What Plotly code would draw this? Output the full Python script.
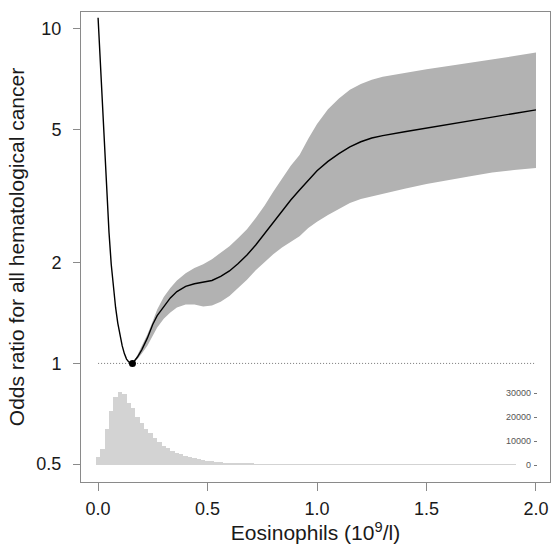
import plotly.graph_objects as go

# ---- data ----
or_x = [0.00, 0.01, 0.02, 0.03, 0.04, 0.05, 0.06, 0.07, 0.08, 0.09, 0.10, 0.11, 0.12, 0.13, 0.14,
        0.15, 0.157, 0.18, 0.20, 0.225, 0.25, 0.27, 0.30, 0.33, 0.36, 0.40, 0.44, 0.48, 0.52, 0.56,
        0.60, 0.64, 0.68, 0.72, 0.76, 0.80, 0.84, 0.88, 0.92, 0.96, 1.00, 1.05, 1.10, 1.15,
        1.20, 1.25, 1.30, 1.40, 1.50, 1.60, 1.70, 1.80, 1.90, 2.00]
or_y = [10.8, 8.0, 5.9, 4.35, 3.25, 2.46, 1.98, 1.68, 1.47, 1.32, 1.21, 1.13, 1.07, 1.03, 1.01,
        1.002, 1.0, 1.045, 1.10, 1.19, 1.31, 1.39, 1.48, 1.57, 1.64, 1.70, 1.73, 1.75, 1.77, 1.82,
        1.89, 1.99, 2.11, 2.26, 2.44, 2.65, 2.86, 3.08, 3.30, 3.53, 3.77, 4.02, 4.24, 4.44,
        4.60, 4.72, 4.80, 4.93, 5.05, 5.18, 5.30, 5.45, 5.59, 5.73]

ci_x = [0.157, 0.18, 0.20, 0.225, 0.25, 0.27, 0.30, 0.33, 0.36, 0.40, 0.44, 0.48, 0.52, 0.56,
        0.60, 0.64, 0.68, 0.72, 0.76, 0.80, 0.84, 0.88, 0.92, 0.96, 1.00, 1.05, 1.10, 1.15,
        1.20, 1.25, 1.30, 1.40, 1.50, 1.60, 1.70, 1.80, 1.90, 2.00]
ci_upper = [1.0, 1.06, 1.13, 1.22, 1.34, 1.45, 1.58, 1.68, 1.77, 1.86, 1.93, 1.98, 2.05, 2.14,
            2.24, 2.37, 2.52, 2.72, 2.96, 3.26, 3.58, 3.90, 4.20, 4.70, 5.20, 5.75, 6.20, 6.58,
            6.85, 7.05, 7.20, 7.40, 7.58, 7.75, 7.92, 8.10, 8.30, 8.50]
ci_lower = [1.0, 1.03, 1.07, 1.13, 1.21, 1.28, 1.36, 1.42, 1.47, 1.50, 1.50, 1.48, 1.49, 1.53,
            1.59, 1.68, 1.78, 1.90, 2.01, 2.12, 2.22, 2.31, 2.40, 2.54, 2.65, 2.78, 2.90, 3.02,
            3.10, 3.15, 3.22, 3.33, 3.44, 3.54, 3.63, 3.72, 3.79, 3.84]

ref_x = [0.157]
ref_y = [1.0]
ref_line_x = [0.0, 2.0]
ref_line_y = [1.0, 1.0]

hist_counts = [3200, 6500, 14900, 22600, 28200, 30500, 29600, 26000, 23600, 20100,
               17600, 14900, 13200, 11100, 9500, 8000, 7000, 6000, 5100, 4600,
               3750, 3200, 2800, 2400, 2100, 1800, 1500, 1300, 1150, 1000,
               900, 750, 650, 550, 480, 420, 380, 350, 320, 300,
               280, 260, 250, 240, 230, 220, 210, 200, 200, 190,
               190, 180, 180, 170, 170, 160, 160, 160, 150, 150,
               150, 150, 140, 140, 140, 140, 130, 130, 130, 130,
               130, 120, 120, 120, 120, 120, 120, 110, 110, 110,
               110, 110, 110, 110, 100, 100, 100, 100, 100, 100,
               100, 100, 100, 100, 100, 100, 0, 0, 0, 0]
hist_width = 0.02
hist_x = [i * hist_width for i in range(len(hist_counts))]

y_ticks = [0.5, 1, 2, 5, 10]
y_ticktext = ["0.5", "1", "2", "5", "10"]
x_ticks = [0.0, 0.5, 1.0, 1.5, 2.0]
x_ticktext = ["0.0", "0.5", "1.0", "1.5", "2.0"]
hist_ticks = [0, 10000, 20000, 30000]
hist_ticktext = ["0", "10000", "20000", "30000"]

FONT = "Liberation Sans, Arial, Helvetica, sans-serif"
AX = "#8a8a8a"

fig = go.Figure()

fig.add_trace(go.Bar(x=hist_x, y=hist_counts, width=hist_width, yaxis="y2",
                     marker=dict(color="#d3d3d3", line=dict(width=0)), showlegend=False,
                     hoverinfo="skip"))

fig.add_trace(go.Scatter(x=ci_x + ci_x[::-1], y=ci_upper + ci_lower[::-1],
                         fill="toself", fillcolor="#b2b2b2", line=dict(width=0),
                         mode="lines", showlegend=False, hoverinfo="skip"))

fig.add_trace(go.Scatter(x=ref_line_x, y=ref_line_y, mode="lines",
                         line=dict(color="#777777", width=1, dash="1px,2px"), showlegend=False))

fig.add_trace(go.Scatter(x=or_x, y=or_y, mode="lines", line=dict(color="black", width=1.4),
                         showlegend=False))

fig.add_trace(go.Scatter(x=ref_x, y=ref_y, mode="markers",
                         marker=dict(color="black", size=7), showlegend=False))

fig.update_layout(
    width=551, height=547,
    margin=dict(l=81, r=1, t=12, b=65),
    paper_bgcolor="white", plot_bgcolor="white",
    font=dict(family=FONT, color="#1a1a1a"),
    bargap=0,
    xaxis=dict(range=[-0.078, 2.064], tickvals=x_ticks, ticktext=x_ticktext,
               showgrid=False, zeroline=False, showline=True, mirror=True,
               linecolor=AX, linewidth=1, ticks="outside", ticklen=8, tickcolor=AX,
               tickfont=dict(size=18), ticklabelstandoff=2,
               title=dict(text="Eosinophils (10<sup>9</sup>/l)", font=dict(size=21),
                          standoff=6)),
    yaxis=dict(type="log", range=[-0.3546, 1.0508], tickvals=y_ticks, ticktext=y_ticktext,
               showgrid=False, zeroline=False, showline=True, mirror=True,
               linecolor=AX, linewidth=1, ticks="outside", ticklen=7, tickcolor=AX,
               tickfont=dict(size=18), ticklabelstandoff=8,
               title=dict(text="Odds ratio for all hematological cancer", font=dict(size=21),
                          standoff=6)),
    yaxis2=dict(overlaying="y", anchor="free", position=0.972, side="left",
                range=[-7083, 188750], tickvals=hist_ticks, ticktext=hist_ticktext,
                showgrid=False, zeroline=False, showline=False,
                ticks="outside", ticklen=3, tickcolor="#777777",
                tickfont=dict(size=9, color="#555555"), ticklabelstandoff=1),
)

fig.write_html("out.html", config={"displayModeBar": False},
               post_script="document.body.style.margin='0';document.body.style.overflow='hidden';")
